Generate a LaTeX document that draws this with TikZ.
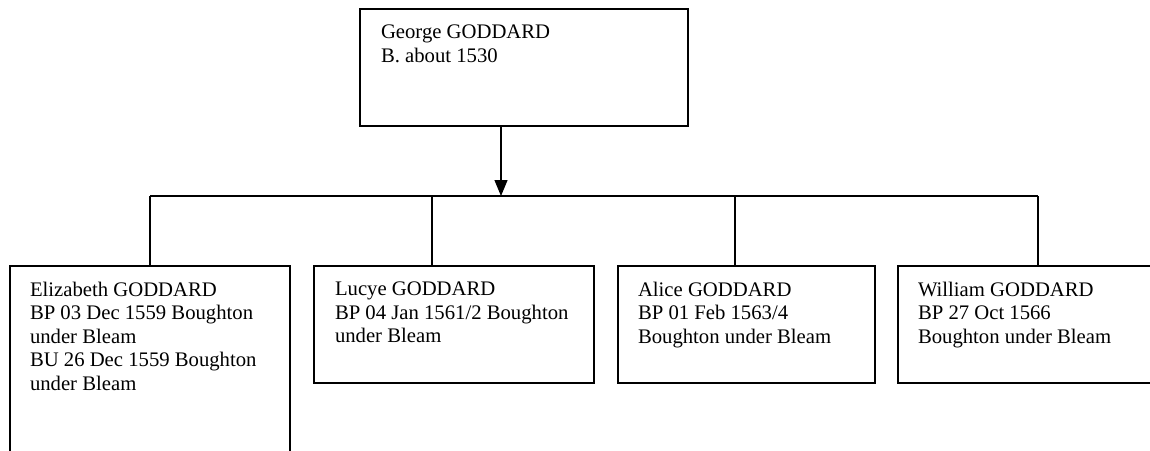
\documentclass[tikz,border=0pt]{standalone}
\usepackage{fontspec}
\setmainfont{Liberation Serif}
\usetikzlibrary{arrows.meta}
\tikzstyle{person}=[shape=rectangle, draw, line width=1.2pt, inner sep=0pt]
\tikzstyle{info}=[anchor=north west, inner sep=0pt, align=left, font=\fontsize{20.7}{23.5}\selectfont]

\begin{document}
\begin{tikzpicture}[x=1pt,y=-1pt,line width=1.2pt]
\useasboundingbox (0,0) rectangle (1150,450);
\clip (0,0) rectangle (1150,450);

\node (george) [person, minimum width=328pt, minimum height=117pt] at (524,67.5) {};
\node (elizabeth) [person, minimum width=280pt, minimum height=214pt] at (150,373) {};
\node (lucye) [person, minimum width=280pt, minimum height=117pt] at (454,324.5) {};
\node (alice) [person, minimum width=257pt, minimum height=117pt] at (746.5,324.5) {};
\node (william) [person, minimum width=280pt, minimum height=117pt] at (1038,324.5) {};

\node (tgeorge) [info] at ([xshift=21pt,yshift=-16pt]george.north west) {George GODDARD\\B. about 1530};
\node (telizabeth) [info] at ([xshift=20pt,yshift=-16pt]elizabeth.north west) {Elizabeth GODDARD\\BP 03 Dec 1559 Boughton\\under Bleam\\BU 26 Dec 1559 Boughton\\under Bleam};
\node (tlucye) [info] at ([xshift=21pt,yshift=-16pt]lucye.north west) {Lucye GODDARD\\BP 04 Jan 1561/2 Boughton\\under Bleam};
\node (talice) [info] at ([xshift=20pt,yshift=-16pt]alice.north west) {Alice GODDARD\\BP 01 Feb 1563/4\\Boughton under Bleam};
\node (twilliam) [info] at ([xshift=20pt,yshift=-16pt]william.north west) {William GODDARD\\BP 27 Oct 1566\\Boughton under Bleam};

\coordinate (fork) at (501,196);
\coordinate (d1) at (elizabeth.north);
\coordinate (d2) at (432,266);
\coordinate (d3) at (735,266);
\coordinate (d4) at (william.north);

\draw[-{Triangle[length=16pt,width=13pt]}] (george.south -| fork) -- (fork);
\draw (d1 |- fork) -- (d4 |- fork);
\draw (d1 |- fork) -- (d1);
\draw (d2 |- fork) -- (d2);
\draw (d3 |- fork) -- (d3);
\draw (d4 |- fork) -- (d4);

\end{tikzpicture}
\end{document}
